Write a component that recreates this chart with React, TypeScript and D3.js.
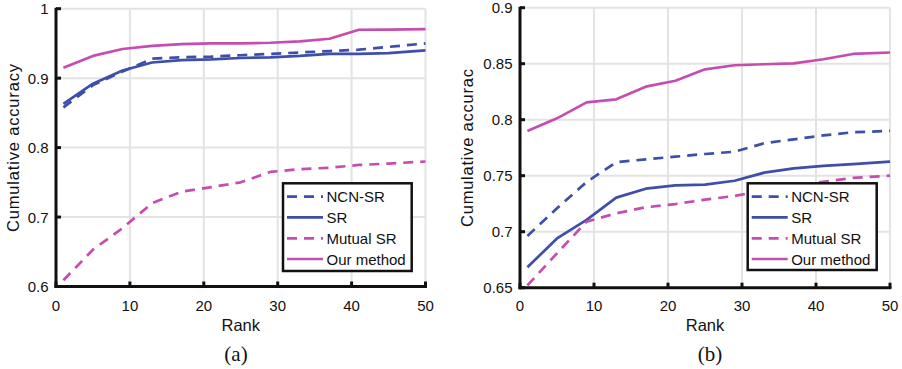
import React from "react";
import * as d3 from "d3";

const ranks = [1, 5, 9, 13, 17, 21, 25, 29, 33, 37, 41, 45, 50];

// Panel (a)
const aNCN = [0.858, 0.89, 0.9095, 0.928, 0.930, 0.931, 0.933, 0.935, 0.937, 0.939, 0.941, 0.945, 0.950];
const aSR = [0.863, 0.892, 0.911, 0.9225, 0.926, 0.927, 0.929, 0.930, 0.932, 0.935, 0.935, 0.936, 0.940];
const aMutual = [0.609, 0.653, 0.684, 0.72, 0.7366, 0.743, 0.750, 0.765, 0.769, 0.771, 0.775, 0.777, 0.780];
const aOurs = [0.915, 0.932, 0.942, 0.9465, 0.949, 0.950, 0.950, 0.951, 0.953, 0.9567, 0.9697, 0.970, 0.9705];

// Panel (b)
const bNCN = [0.6962, 0.7209, 0.7444, 0.762, 0.7646, 0.767, 0.7694, 0.7714, 0.779, 0.7825, 0.786, 0.7888, 0.790];
const bSR = [0.6682, 0.694, 0.7105, 0.7304, 0.7384, 0.7414, 0.742, 0.7455, 0.7527, 0.7566, 0.7587, 0.7604, 0.7625];
const bMutual = [0.652, 0.6807, 0.709, 0.7164, 0.7218, 0.7247, 0.7286, 0.7319, 0.737, 0.741, 0.7446, 0.748, 0.750];
const bOurs = [0.790, 0.8012, 0.8155, 0.8182, 0.8295, 0.8348, 0.845, 0.8486, 0.8495, 0.8503, 0.854, 0.8587, 0.860];

const xTicks = [0, 10, 20, 30, 40, 50];
const aYTicks = [0.6, 0.7, 0.8, 0.9, 1];
const bYTicks = [0.65, 0.7, 0.75, 0.8, 0.85, 0.9];
const legendNames = ["NCN-SR", "SR", "Mutual SR", "Our method"];

const BLUE = "#3e4ea9";
const MAG = "#c64db0";
const FONT = "'Liberation Sans', Arial, Helvetica, sans-serif";

type Series = { values: number[]; color: string; dashed: boolean };

function Panel(props: {
  xRange: [number, number];
  yDomain: [number, number];
  yRange: [number, number];
  yTicks: number[];
  yFmt: (v: number) => string;
  series: Series[];
  ylabel: string;
  ylabelX: number;
  ylabelLen: number;
  caption: string;
  captionX: number;
  legendBox: [number, number, number, number];
}) {
  const { xRange, yDomain, yRange, yTicks, yFmt, series, ylabel, ylabelX, ylabelLen, caption, captionX, legendBox } = props;
  const x = d3.scaleLinear().domain([0, 50]).range(xRange);
  const y = d3.scaleLinear().domain(yDomain).range(yRange);
  const line = d3
    .line<number>()
    .x((_, i) => x(ranks[i]))
    .y((v) => y(v));
  const [lx, ly, lw, lh] = legendBox;
  const rowYs = [196.7, 217.3, 238.3, 259];
  const cx = (xRange[0] + xRange[1]) / 2;
  return (
    <g>
      {/* grid */}
      {xTicks.filter((t) => t > 0).map((t) => (
        <line key={"gx" + t} x1={x(t)} x2={x(t)} y1={yRange[0]} y2={yRange[1]} stroke="#e3e3e3" strokeWidth={2} />
      ))}
      {yTicks.filter((t, i) => i > 0).map((t) => (
        <line key={"gy" + t} x1={xRange[0]} x2={xRange[1]} y1={y(t)} y2={y(t)} stroke="#e3e3e3" strokeWidth={2} />
      ))}
      {/* series */}
      {series.map((s, i) => (
        <path
          key={"s" + i}
          d={line(s.values) || ""}
          fill="none"
          stroke={s.color}
          strokeWidth={2.7}
          strokeDasharray={s.dashed ? "10 7" : undefined}
          strokeLinejoin="round"
        />
      ))}
      {/* axes */}
      <line x1={xRange[0]} x2={xRange[0]} y1={yRange[1] - 1} y2={yRange[0] + 1.5} stroke="#111" strokeWidth={3} />
      <line x1={xRange[0] - 1.5} x2={xRange[1] + 1.5} y1={yRange[0]} y2={yRange[0]} stroke="#111" strokeWidth={3} />
      {xTicks.map((t) => (
        <line key={"tx" + t} x1={x(t)} x2={x(t)} y1={yRange[0]} y2={yRange[0] - 5} stroke="#111" strokeWidth={3} />
      ))}
      {yTicks.map((t) => (
        <line key={"ty" + t} x1={xRange[0]} x2={xRange[0] + 5} y1={y(t)} y2={y(t)} stroke="#111" strokeWidth={3} />
      ))}
      {/* tick labels */}
      {xTicks.map((t) => (
        <text key={"lx" + t} x={x(t)} y={310.5} textAnchor="middle" fontFamily={FONT} fontSize={15} fill="#111">
          {t}
        </text>
      ))}
      {yTicks.map((t) => (
        <text key={"ly" + t} x={xRange[0] - 7.5} y={y(t) + 5.5} textAnchor="end" fontFamily={FONT} fontSize={15} fill="#111">
          {yFmt(t)}
        </text>
      ))}
      <text x={cx} y={331} textAnchor="middle" fontFamily={FONT} fontSize={16.5} fill="#111">
        Rank
      </text>
      <text
        transform={`translate(${ylabelX},148) rotate(-90)`}
        textAnchor="middle"
        fontFamily={FONT}
        fontSize={16.5}
        fill="#111"
        textLength={ylabelLen}
        lengthAdjust="spacing"
      >
        {ylabel}
      </text>
      <text x={captionX} y={361} textAnchor="middle" fontFamily="'Liberation Serif', 'Times New Roman', serif" fontSize={21} fill="#111">
        {caption}
      </text>
      {/* legend */}
      <rect x={lx} y={ly} width={lw} height={lh} fill="#fff" stroke="#111" strokeWidth={2.5} />
      {series.map((s, i) => (
        <g key={"lg" + i}>
          <line
            x1={lx + 4}
            x2={lx + 40}
            y1={rowYs[i]}
            y2={rowYs[i]}
            stroke={s.color}
            strokeWidth={2.7}
            strokeDasharray={s.dashed ? "10 7" : undefined}
          />
          <text x={lx + 43.5} y={rowYs[i] + 5.5} fontFamily={FONT} fontSize={15} fill="#111">
            {legendNames[i]}
          </text>
        </g>
      ))}
    </g>
  );
}

export default function App() {
  const aSeries: Series[] = [
    { values: aNCN, color: BLUE, dashed: true },
    { values: aSR, color: BLUE, dashed: false },
    { values: aMutual, color: MAG, dashed: true },
    { values: aOurs, color: MAG, dashed: false },
  ];
  const bSeries: Series[] = [
    { values: bNCN, color: BLUE, dashed: true },
    { values: bSR, color: BLUE, dashed: false },
    { values: bMutual, color: MAG, dashed: true },
    { values: bOurs, color: MAG, dashed: false },
  ];
  const fmtA = (v: number) => (v === 1 ? "1" : d3.format(".1f")(v));
  const fmtB = (v: number) => {
    const s = d3.format(".2f")(v);
    return s.endsWith("0") ? s.slice(0, -1) : s;
  };
  return (
    <svg width={902} height={369} style={{ position: "absolute", left: 0, top: 0, background: "#fff" }}>
      <rect width={902} height={369} fill="#fff" />
      <Panel
        xRange={[56, 425.5]}
        yDomain={[0.6, 1]}
        yRange={[286.5, 8.7]}
        yTicks={aYTicks}
        yFmt={fmtA}
        series={aSeries}
        ylabel="Cumulative accuracy"
        ylabelX={19}
        ylabelLen={168}
        caption="(a)"
        captionX={236}
        legendBox={[283, 183.3, 128.7, 87.7]}
      />
      <Panel
        xRange={[520, 890]}
        yDomain={[0.65, 0.9]}
        yRange={[287.7, 7.7]}
        yTicks={bYTicks}
        yFmt={fmtB}
        series={bSeries}
        ylabel="Cumulative accurac"
        ylabelX={473}
        ylabelLen={158}
        caption="(b)"
        captionX={710}
        legendBox={[747.7, 183.3, 129, 86.7]}
      />
    </svg>
  );
}
